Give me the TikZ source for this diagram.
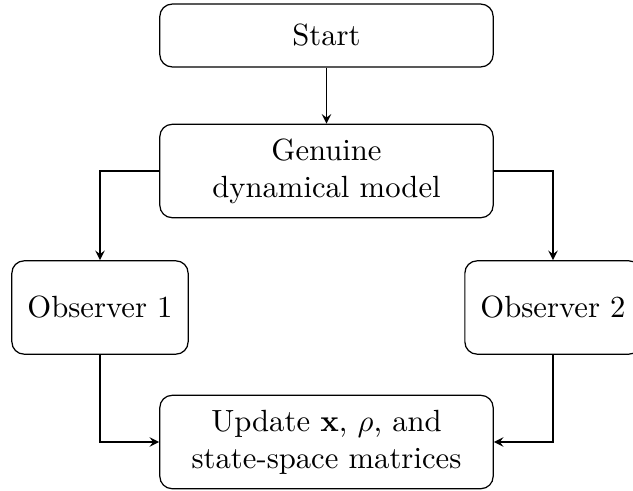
\documentclass[tikz,border=0pt]{standalone}
\usepackage{amsmath}
\usepackage{amssymb}
\usepackage{tikz}
\usetikzlibrary{positioning, arrows, calc}

\tikzset{
    block/.style={draw, rounded corners, align=center, minimum width=3.82cm, minimum height=1.07cm},
    startblock/.style={block, minimum height=0.72cm},
    obsblock/.style={block, minimum width=2.02cm},
    flow/.style={-stealth}
}

\begin{document}
\begin{tikzpicture}[x=0.01146cm, y=-0.01146cm]
        % page size
        \useasboundingbox (0, 0) rectangle (633, 490);

        % blocks
        \node[startblock] (start) at (326.5, 35.5) {Start};
        \node[block] (model) at (326.5, 171) {Genuine\\ dynamical model};
        \node[obsblock] (obs1) at (100, 307.5) {Observer 1};
        \node[obsblock] (obs2) at (553, 307.5) {Observer 2};
        \node[block] (update) at (326.5, 442) {Update $\mathbf{x}$, $\rho$, and\\ state-space matrices};

        % arrows
        \draw[flow] (start) -- (model);
        \draw[flow] (model.west) -| (obs1);
        \draw[flow] (model.east) -| (obs2);
        \draw[flow] (obs1) |- (update);
        \draw[flow] (obs2) |- (update);
    \end{tikzpicture}
\end{document}
